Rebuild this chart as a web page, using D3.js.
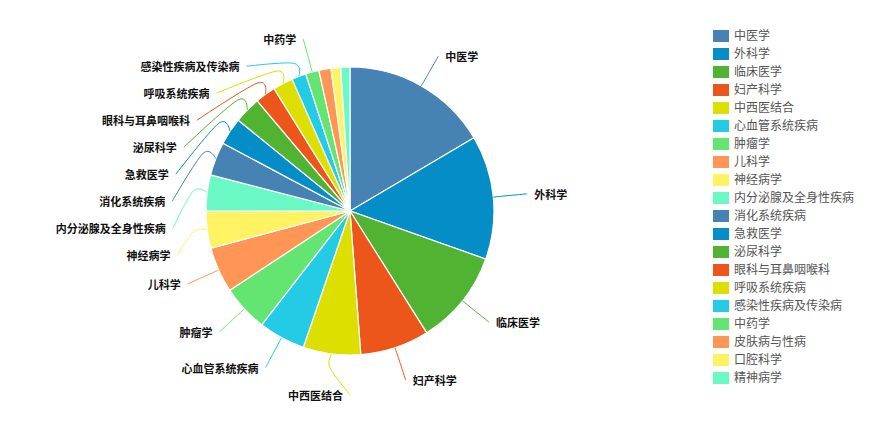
<!DOCTYPE html>
<html>
<head>
<meta charset="utf-8">
<script src="https://cdn.jsdelivr.net/npm/d3@7"></script>
<style>
  body { margin: 0; background: #fff; }
  svg { display: block; font-family: "Noto Sans CJK SC", "Noto Sans", sans-serif; }
</style>
</head>
<body>
<svg id="chart" width="883" height="421"></svg>
<script>
// Disciplines and their counts, largest first
const categories = ["中医学", "外科学", "临床医学", "妇产科学", "中西医结合", "心血管系统疾病", "肿瘤学", "儿科学",
  "神经病学", "内分泌腺及全身性疾病", "消化系统疾病", "急救医学", "泌尿科学", "眼科与耳鼻咽喉科", "呼吸系统疾病",
  "感染性疾病及传染病", "中药学", "皮肤病与性病", "口腔科学", "精神病学"];
const values = [594, 501, 383, 279, 232, 189, 188, 184, 150, 145, 136, 110, 108, 83, 81, 58, 54, 49, 39, 37];
const palette = ["#4682B4", "#058DC7", "#50B432", "#ED561B", "#DDDF00", "#24CBE5", "#64E572", "#FF9655", "#FFF263", "#6AF9C4"];

const cx = 350, cy = 211, radius = 144;
const elbowR = 158, labelR = 178, labelGap = 27;
const minLabelAngle = 5 * Math.PI / 180;

const svg = d3.select("#chart");
const data = categories.map((name, i) => ({ name, value: values[i] }));
const color = d3.scaleOrdinal().domain(categories).range(palette);
const pie = d3.pie().sort(null).value(d => d.value);
const arcs = pie(data);
const arc = d3.arc().innerRadius(0).outerRadius(radius);

const g = svg.append("g").attr("transform", `translate(${cx},${cy})`);

g.selectAll("path.slice")
  .data(arcs)
  .join("path")
  .attr("class", "slice")
  .attr("d", arc)
  .attr("fill", d => color(d.data.name))
  .attr("stroke", "#fff")
  .attr("stroke-width", 1.2);

// Outer labels: sit on a circle, pushed apart vertically per side
const labelled = arcs
  .filter(d => d.endAngle - d.startAngle >= minLabelAngle)
  .map(d => {
    const mid = (d.startAngle + d.endAngle) / 2;
    return { d, mid, side: Math.sin(mid) >= 0 ? 1 : -1, y: -labelR * Math.cos(mid) };
  });

[1, -1].forEach(side => {
  const list = labelled.filter(l => l.side === side).sort((a, b) => a.y - b.y);
  for (let i = 1; i < list.length; i++) {
    if (list[i].y < list[i - 1].y + labelGap) list[i].y = list[i - 1].y + labelGap;
  }
});
labelled.forEach(l => {
  const dy = Math.abs(l.y);
  l.x = l.side * Math.sqrt(Math.max(0, labelR * labelR - dy * dy));
});

const guide = d3.line().curve(d3.curveCardinal.tension(0));

g.selectAll("path.guide")
  .data(labelled)
  .join("path")
  .attr("class", "guide")
  .attr("fill", "none")
  .attr("stroke", l => color(l.d.data.name))
  .attr("stroke-width", 1)
  .attr("d", l => guide([
    [radius * Math.sin(l.mid), -radius * Math.cos(l.mid)],
    [elbowR * Math.sin(l.mid), -elbowR * Math.cos(l.mid)],
    [l.x, l.y]
  ]));

g.selectAll("text.label")
  .data(labelled)
  .join("text")
  .attr("class", "label")
  .attr("x", l => l.x + l.side * 7)
  .attr("y", l => l.y)
  .attr("dy", "0.45em")
  .attr("text-anchor", l => l.side > 0 ? "start" : "end")
  .attr("font-size", 11)
  .attr("font-weight", "bold")
  .attr("fill", "#111")
  .text(l => l.d.data.name);

// Legend
const legend = svg.append("g").attr("transform", "translate(713,30)");
const item = legend.selectAll("g")
  .data(categories)
  .join("g")
  .attr("transform", (d, i) => `translate(0,${i * 18})`);
item.append("rect")
  .attr("width", 16)
  .attr("height", 12)
  .attr("fill", d => color(d));
item.append("text")
  .attr("x", 21)
  .attr("y", 6)
  .attr("dy", "0.36em")
  .attr("font-size", 12)
  .attr("fill", "#555")
  .text(d => d);
</script>
</body>
</html>
